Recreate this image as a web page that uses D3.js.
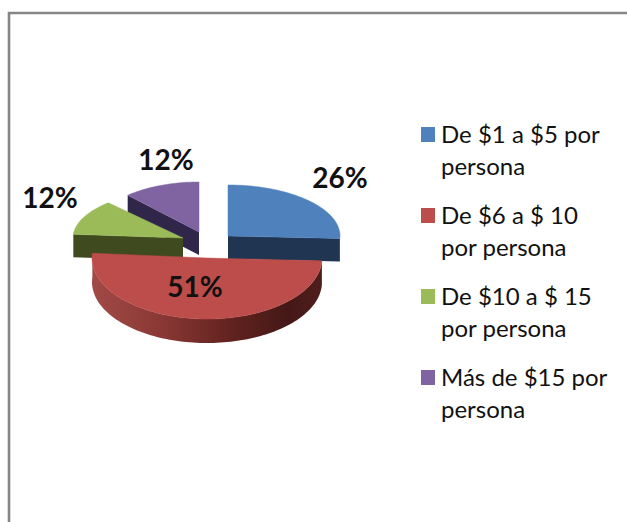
<!DOCTYPE html>
<html>
<head>
<meta charset="utf-8">
<script src="https://cdn.jsdelivr.net/npm/d3@7"></script>
<style>
html,body{margin:0;padding:0;background:#fff;}
svg{display:block;}
text{font-family:Lato,"Liberation Sans",sans-serif;fill:#111;}
</style>
</head>
<body>
<svg id="chart" width="627" height="522"></svg>
<script>
const categories = ["De $1 a $5 por persona","De $6 a $ 10 por persona","De $10 a $ 15 por persona","Más de $15 por persona"];
const values = [26, 51, 12, 12];
const percentLabels = ["26%","51%","12%","12%"];
const legendLines = [["De $1 a $5 por","persona"],["De $6 a $ 10","por persona"],["De $10 a $ 15","por persona"],["Más de $15 por","persona"]];
const topColors = ["#4F81BD","#BC4D4A","#9BBB59","#8064A2"];
const sideColors = ["#1F3552","#7A2F2C","#404A1F","#30264A"];
// per-slice exploded centres and foreshortened radii
const centersX = [228,207,183,199];
const centersY = [236,258,238,232];
const radiiX = [112,115,110,105];
const radiiY = [51,61,48,50];
const depths = [23,24,23,23];
const labelX = [340,195,50,166];
const labelY = [188,297,208,170];
const drawOrder = [3,0,2,1];

const svg = d3.select("#chart");
const defs = svg.append("defs");
const grad = defs.append("linearGradient").attr("id","redWall")
  .attr("gradientUnits","userSpaceOnUse").attr("x1",92).attr("x2",322).attr("y1",0).attr("y2",0);
[[0,"#A14A47"],[0.3,"#8A3835"],[0.6,"#62231F"],[0.85,"#451817"],[1,"#4E1E1C"]].forEach(s=>
  grad.append("stop").attr("offset",s[0]).attr("stop-color",s[1]));

// chart frame
svg.append("path").attr("d","M9,522V13H627").attr("fill","none").attr("stroke","#868686").attr("stroke-width",2.6);

const arcs = d3.pie().sort(null).value(d=>d)(values);
const line = d3.line();
function pt(i,a,r,dz){
  return [centersX[i]+radiiX[i]*r*Math.sin(a), centersY[i]-radiiY[i]*r*Math.cos(a)+(dz||0)];
}
function arcPts(i,a0,a1,dz){
  const n = Math.max(2,Math.ceil(Math.abs(a1-a0)/0.03));
  return d3.range(n+1).map(k=>pt(i,a0+(a1-a0)*k/n,1,dz));
}
const g = svg.append("g");
drawOrder.forEach(i=>{
  const a0=arcs[i].startAngle, a1=arcs[i].endAngle, d=depths[i];
  const cut = (a)=>line([pt(i,a,0,0),pt(i,a,1,0),pt(i,a,1,d),pt(i,a,0,d)])+"Z";
  if(i===0) g.append("path").attr("d",cut(a1)).attr("fill",sideColors[i]);
  if(i===2) g.append("path").attr("d",cut(a0)).attr("fill",sideColors[i]);
  if(i===3) g.append("path").attr("d",cut(a0)).attr("fill",sideColors[i]);
  if(i===3) g.append("path").attr("d",line([pt(i,a1,0,0),pt(i,a1,0,d),pt(i,a0,0,d)])+"Z").attr("fill",sideColors[i]);
  if(i===1){
    const upper=arcPts(i,a0,a1,0), lower=arcPts(i,a1,a0,d);
    g.append("path").attr("d",line(upper.concat(lower))+"Z").attr("fill","url(#redWall)");
  }
  const top=[pt(i,a0,0,0)].concat(arcPts(i,a0,a1,0));
  g.append("path").attr("d",line(top)+"Z").attr("fill",topColors[i]).attr("stroke",topColors[i]).attr("stroke-width",0.5);
});

// data labels
svg.append("g").selectAll("text").data(percentLabels).join("text")
  .attr("x",(d,i)=>labelX[i]).attr("y",(d,i)=>labelY[i])
  .attr("text-anchor","middle").attr("font-size",28).attr("font-weight",700)
  .attr("fill","#111").text(d=>d);

// legend
const legendScale = d3.scaleBand().domain(d3.range(categories.length)).range([125,449]);
const leg = svg.append("g").selectAll("g").data(categories).join("g")
  .attr("transform",(d,i)=>`translate(0,${legendScale(i)})`);
leg.append("rect").attr("x",421).attr("y",2).attr("width",14).attr("height",15)
  .attr("fill",(d,i)=>topColors[i]);
leg.each(function(d,i){
  d3.select(this).selectAll("text").data(legendLines[i]).join("text")
    .attr("x",441).attr("y",(t,j)=>18+j*32)
    .attr("font-size",24).attr("fill","#222").text(t=>t);
});
</script>
</body>
</html>
